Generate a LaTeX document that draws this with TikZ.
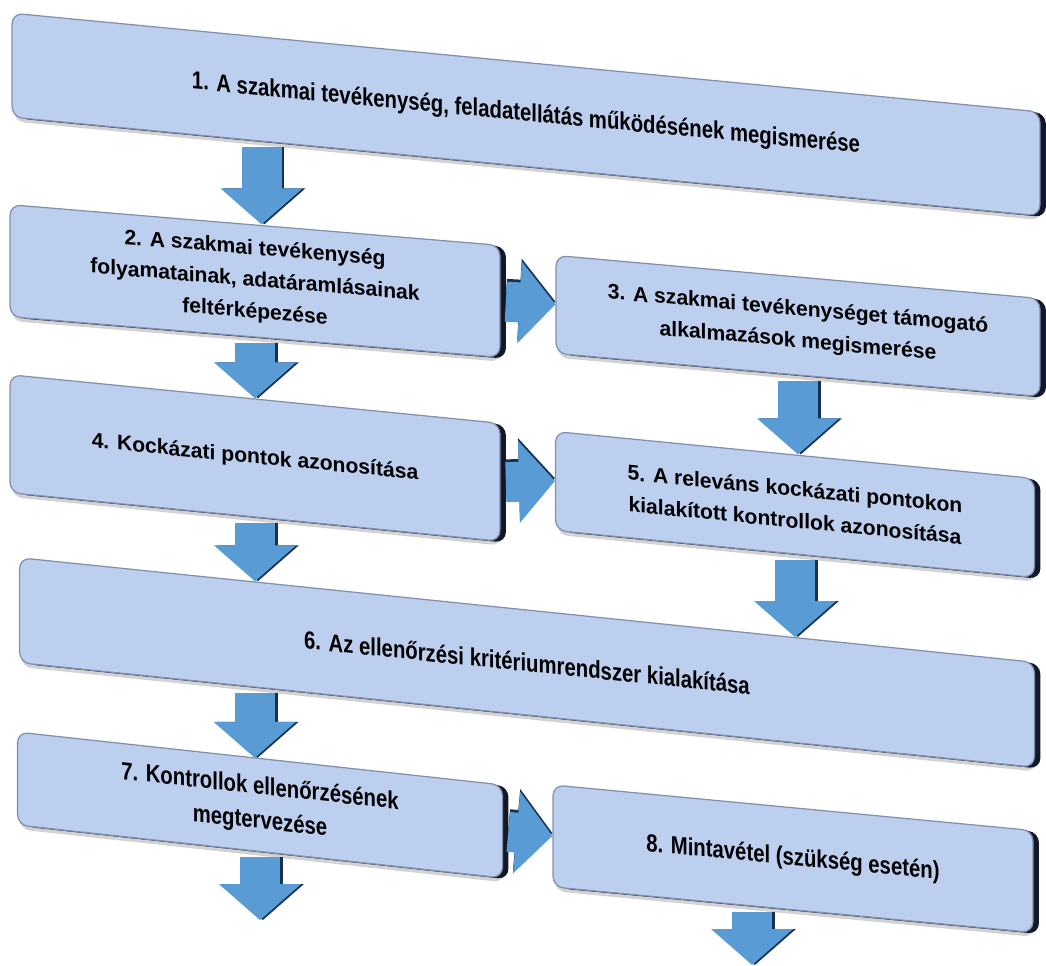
\documentclass[tikz,border=0pt]{standalone}
\usepackage{fontspec}
\setmainfont{Liberation Sans}
\newfontfamily\narrowfont[FakeStretch=0.82]{Liberation Sans}
\usetikzlibrary{arrows.meta,calc,shadows}
\definecolor{cBox}{RGB}{189,207,238}
\definecolor{cRim}{RGB}{128,144,172}
\definecolor{cEdge}{RGB}{18,24,40}
\definecolor{cArrow}{RGB}{89,155,213}
\definecolor{cArrowEdge}{RGB}{24,48,82}

\tikzset{
  stage/.style={rectangle, rounded corners=6pt, fill=cBox, draw=cRim, line width=0.7pt,
    inner sep=0pt, align=center, font=\bfseries\fontsize{12}{18}\selectfont,
    drop shadow={shadow xshift=1pt, shadow yshift=-2.5pt, fill=black!35, opacity=0.5},
    drop shadow={shadow xshift=3.4pt, shadow yshift=-0.8pt, fill=cEdge, opacity=1}},
  widestage/.style={stage, font=\narrowfont\bfseries\fontsize{14.1}{19.5}\selectfont},
  flow/.style={draw=cArrow, line width=0.8cm, shorten <=3pt,
    -{Triangle[width=1.6cm,length=0.72cm]}},
  flowshade/.style={flow, draw=cArrowEdge},
}

\begin{document}
\begin{tikzpicture}[x=0.02cm, y=-0.02cm]
  \useasboundingbox (0,0) rectangle (1046,965);
  % stages
  \node[widestage, yslant=-0.096, minimum width=20.56cm, minimum height=2.08cm] (b1) at (526,114.5)
    {1. A szakmai tevékenység, feladatellátás működésének megismerése};
  \node[stage, yslant=-0.083, minimum width=9.8cm, minimum height=2.24cm] (b2) at (255,281)
    {2. A szakmai tevékenység\\ folyamatainak, adatáramlásainak\\ feltérképezése};
  \node[stage, yslant=-0.089, minimum width=9.68cm, minimum height=1.96cm] (b3) at (798,326)
    {3. A szakmai tevékenységet támogató\\ alkalmazások megismerése};
  \node[stage, yslant=-0.099, minimum width=9.8cm, minimum height=2.36cm] (b4) at (255,458)
    {4. Kockázati pontok azonosítása};
  \node[stage, yslant=-0.098, minimum width=9.58cm, minimum height=1.98cm] (b5) at (795,504.5)
    {5. A releváns kockázati pontokon\\ kialakított kontrollok azonosítása};
  \node[widestage, yslant=-0.103, minimum width=20.3cm, minimum height=2.1cm] (b6) at (527,662.5)
    {6. Az ellenőrzési kritériumrendszer kialakítása};
  \node[widestage, yslant=-0.109, minimum width=9.7cm, minimum height=1.86cm] (b7) at (260,805)
    {7. Kontrollok ellenőrzésének\\ megtervezése};
  \node[widestage, yslant=-0.095, minimum width=9.6cm, minimum height=2.04cm] (b8) at (793,858.75)
    {8. Mintavétel (szükség esetén)};

  % arrow ends
  \coordinate (s1) at ($(b1.south west)!0.243!(b1.south east)$);
  \coordinate (e1) at (s1 |- b2.north);
  \coordinate (e2) at (b2.south |- b4.north);
  \coordinate (e3) at (b3.south |- b5.north);
  \coordinate (t6a) at ($(b6.north west)!0.232!(b6.north east)$);
  \coordinate (e4) at (b4.south |- t6a);
  \coordinate (t6b) at ($(b6.north west)!0.764!(b6.north east)$);
  \coordinate (e5) at (b5.south |- t6b);
  \coordinate (s6) at ($(b6.south west)!0.232!(b6.south east)$);
  \coordinate (e6) at (s6 |- b7.north);
  \coordinate (out7) at ($(b7.south)+(0,68)$);
  \coordinate (s8) at ($(b8.south west)!0.415!(b8.south east)$);
  \coordinate (out8) at (s8 |- 0,965);

  % downward arrows
  \foreach \from/\to in {s1/e1, b2.south/e2, b3.south/e3, b4.south/e4,
                         b5.south/e5, s6/e6, b7.south/out7, s8/out8} {
    \draw[flowshade, transform canvas={xshift=1.6pt}] (\from) -- (\to);
    \draw[flow] (\from) -- (\to);
  }
  % arrows to the right
  \foreach \from/\to in {b2.east/b3.west, b4.east/b5.west, b7.east/b8.west} {
    \draw[flowshade, transform canvas={yshift=1.6pt}] (\from) -- (\to);
    \draw[flow] (\from) -- (\to);
  }
\end{tikzpicture}
\end{document}
